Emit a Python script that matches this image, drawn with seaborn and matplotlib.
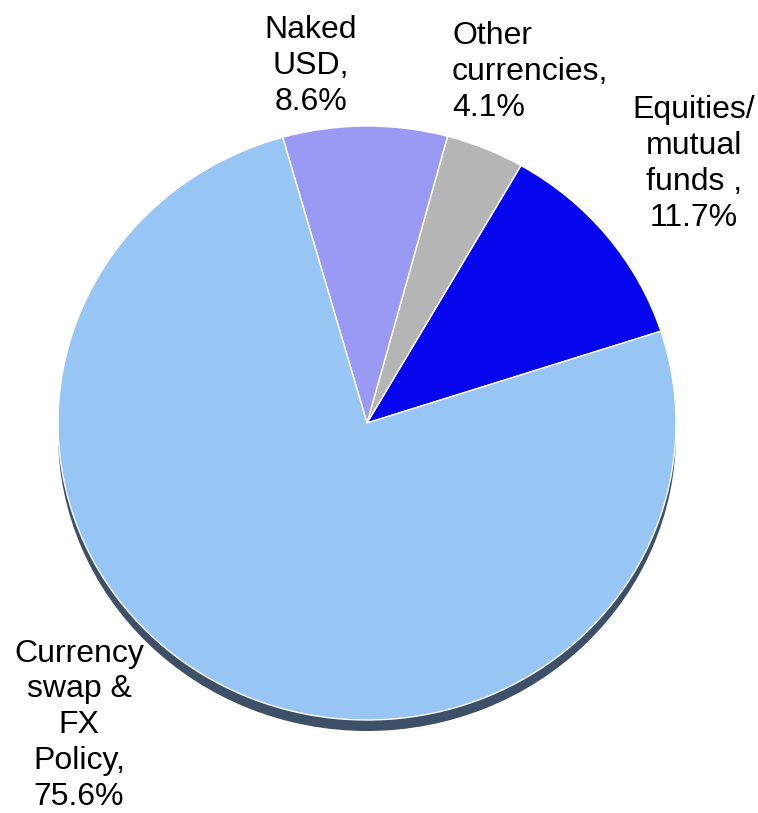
import matplotlib
matplotlib.use("Agg")
import seaborn as sns
from matplotlib import pyplot as plt

# slice data, counter-clockwise from the right
categories = ["Equities/\nmutual\nfunds ,", "Other\ncurrencies,", "Naked\nUSD,", "Currency\nswap &\nFX\nPolicy,"]
shares = [11.7, 4.1, 8.6, 75.6]
colors = ["#0505ee", "#b5b5b5", "#9a9af5", "#97c5f4"]

W, H = 758, 813
CX, CY = 367, 423          # pie centre in pixels
RX, RY = 309, 297          # horizontal / vertical radius in pixels
S = RX / RY                # y stretch so the pie looks slightly flattened

sns.set_theme(style="white")
plt.rcParams["font.family"] = ["Liberation Sans", "DejaVu Sans"]

fig = plt.figure(figsize=(W / 100, H / 100), dpi=100)
ax = fig.add_axes([0, 0, 1, 1])

centre = (CX, (H - CY) * S)

# dark rim below the pie
ax.pie([sum(shares)], colors=["#3e5068"], radius=RX,
       center=(centre[0], centre[1] - 11 * S), startangle=0,
       wedgeprops=dict(linewidth=0))

ax.pie(shares, colors=colors, radius=RX, center=centre, startangle=18.0,
       counterclock=True,
       wedgeprops=dict(edgecolor="white", linewidth=1.0))

ax.set_aspect("auto")
ax.set_xlim(0, W)
ax.set_ylim(0, H * S)
ax.axis("off")

def px(x, y):
    return x / W, 1 - y / H

txt = dict(fontsize=23, linespacing=1.25, color="black")
fig.text(*px(311, 66), f"{categories[2]}\n{shares[2]}%", ha="center", va="center",
         multialignment="center", **txt)
fig.text(*px(452, 72), f"{categories[1]}\n{shares[1]}%", ha="left", va="center",
         multialignment="left", **txt)
fig.text(*px(694, 164), f"{categories[0]}\n{shares[0]}%", ha="center", va="center",
         multialignment="center", **txt)
fig.text(*px(79, 725), f"{categories[3]}\n{shares[3]}%", ha="center", va="center",
         multialignment="center", **txt)

fig.savefig("out.png", dpi=100)
